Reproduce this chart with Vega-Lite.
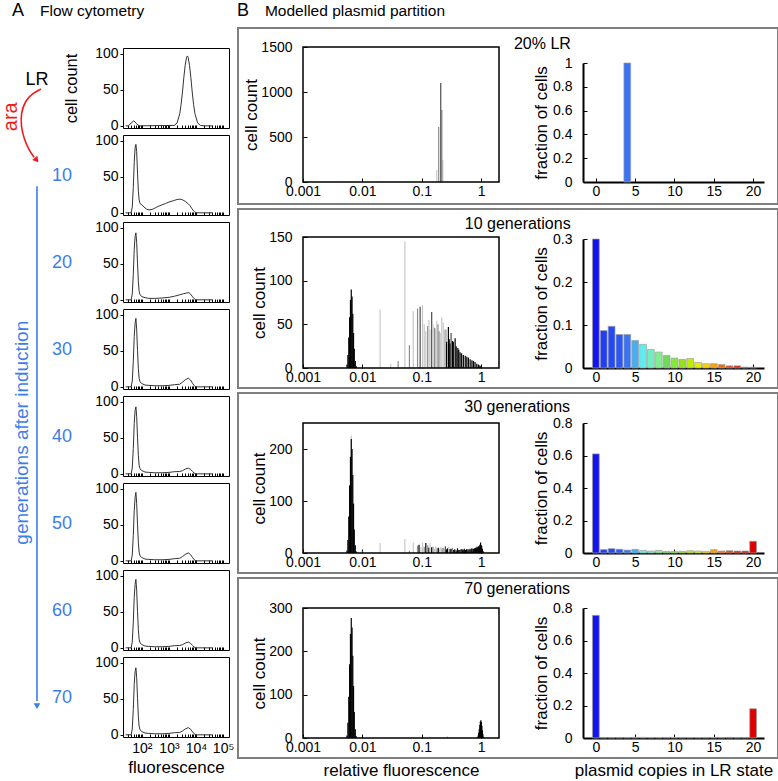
{
"$schema": "https://vega.github.io/schema/vega-lite/v6.json",
"padding": {"left": 0, "top": 0, "right": 0, "bottom": 0},
"spacing": 7,
"datasets": {
"a0": [{"f":25,"c":0},{"f":32,"c":0},{"f":40,"c":4},{"f":50,"c":7},{"f":63,"c":3},{"f":79,"c":0},{"f":1585,"c":0.6},{"f":1995,"c":4},{"f":2512,"c":17},{"f":2818,"c":30},{"f":3162,"c":47},{"f":3548,"c":67},{"f":3981,"c":84},{"f":4467,"c":95},{"f":4786,"c":97},{"f":5129,"c":95},{"f":5754,"c":84},{"f":6457,"c":67},{"f":7244,"c":47},{"f":8128,"c":30},{"f":9120,"c":17},{"f":11482,"c":4},{"f":14454,"c":0.6},{"f":20000,"c":0},{"f":40000,"c":0}],
"a1": [{"f":25,"c":0},{"f":40,"c":0},{"f":44,"c":8},{"f":48,"c":35},{"f":52,"c":70},{"f":56,"c":90},{"f":60,"c":95},{"f":64,"c":85},{"f":69,"c":55},{"f":74,"c":30},{"f":79,"c":18},{"f":85,"c":13},{"f":100,"c":11},{"f":120,"c":8},{"f":150,"c":5},{"f":182,"c":4},{"f":250,"c":5},{"f":316,"c":7},{"f":400,"c":9},{"f":550,"c":11},{"f":750,"c":13},{"f":1000,"c":15},{"f":1500,"c":17},{"f":2000,"c":18.5},{"f":2500,"c":19},{"f":3200,"c":18},{"f":4000,"c":16},{"f":5000,"c":13},{"f":6000,"c":10},{"f":7000,"c":6},{"f":8000,"c":3},{"f":9100,"c":1},{"f":10500,"c":0},{"f":40000,"c":0}],
"a2": [{"f":25,"c":0},{"f":40,"c":0},{"f":44,"c":8},{"f":48,"c":35},{"f":52,"c":70},{"f":56,"c":88},{"f":60,"c":93},{"f":64,"c":80},{"f":69,"c":50},{"f":74,"c":25},{"f":79,"c":12},{"f":85,"c":7},{"f":100,"c":4.5},{"f":130,"c":3},{"f":180,"c":2},{"f":300,"c":2},{"f":550,"c":2.5},{"f":1000,"c":3.5},{"f":1600,"c":5},{"f":2500,"c":7},{"f":3500,"c":8.5},{"f":4500,"c":9.5},{"f":5500,"c":10},{"f":6300,"c":8},{"f":7200,"c":5},{"f":8300,"c":2},{"f":9500,"c":0.5},{"f":11000,"c":0},{"f":40000,"c":0}],
"a3": [{"f":25,"c":0},{"f":40,"c":0},{"f":44,"c":8},{"f":48,"c":35},{"f":52,"c":70},{"f":56,"c":88},{"f":60,"c":95},{"f":64,"c":80},{"f":69,"c":50},{"f":74,"c":25},{"f":79,"c":12},{"f":85,"c":7},{"f":100,"c":4.5},{"f":130,"c":2.5},{"f":180,"c":2},{"f":300,"c":1.5},{"f":600,"c":1.5},{"f":1000,"c":2},{"f":1600,"c":3},{"f":2500,"c":3.6},{"f":3200,"c":6.6},{"f":4000,"c":9.8},{"f":5200,"c":12},{"f":6300,"c":9.4},{"f":7500,"c":4.8},{"f":8500,"c":1.8},{"f":9500,"c":0.5},{"f":11000,"c":0},{"f":40000,"c":0}],
"a4": [{"f":25,"c":0},{"f":40,"c":0},{"f":44,"c":8},{"f":48,"c":35},{"f":52,"c":70},{"f":56,"c":88},{"f":60,"c":93},{"f":64,"c":80},{"f":69,"c":50},{"f":74,"c":25},{"f":79,"c":12},{"f":85,"c":7},{"f":100,"c":4.5},{"f":130,"c":2.5},{"f":180,"c":2},{"f":300,"c":1.5},{"f":600,"c":1.5},{"f":1000,"c":2},{"f":1600,"c":3},{"f":2500,"c":3.2},{"f":3200,"c":4.4},{"f":4000,"c":6.6},{"f":5200,"c":8},{"f":6300,"c":6.2},{"f":7500,"c":3.2},{"f":8500,"c":1.2},{"f":9500,"c":0.3},{"f":11000,"c":0},{"f":40000,"c":0}],
"a5": [{"f":25,"c":0},{"f":40,"c":0},{"f":44,"c":8},{"f":48,"c":35},{"f":52,"c":70},{"f":56,"c":88},{"f":60,"c":95},{"f":64,"c":80},{"f":69,"c":50},{"f":74,"c":25},{"f":79,"c":12},{"f":85,"c":7},{"f":100,"c":4.5},{"f":130,"c":2.5},{"f":180,"c":2},{"f":300,"c":1.5},{"f":600,"c":1.5},{"f":1000,"c":2},{"f":1600,"c":3},{"f":2500,"c":3.5},{"f":3200,"c":6},{"f":4000,"c":9},{"f":5200,"c":11},{"f":6300,"c":8.6},{"f":7500,"c":4.4},{"f":8500,"c":1.7},{"f":9500,"c":0.4},{"f":11000,"c":0},{"f":40000,"c":0}],
"a6": [{"f":25,"c":0},{"f":40,"c":0},{"f":44,"c":8},{"f":48,"c":35},{"f":52,"c":70},{"f":56,"c":88},{"f":60,"c":95},{"f":64,"c":80},{"f":69,"c":50},{"f":74,"c":25},{"f":79,"c":12},{"f":85,"c":7},{"f":100,"c":4.5},{"f":130,"c":2.5},{"f":180,"c":2},{"f":300,"c":1.5},{"f":600,"c":1.5},{"f":1000,"c":2},{"f":1600,"c":3},{"f":2500,"c":3.2},{"f":3200,"c":4.4},{"f":4000,"c":6.6},{"f":5200,"c":8},{"f":6300,"c":6.2},{"f":7500,"c":3.2},{"f":8500,"c":1.2},{"f":9500,"c":0.3},{"f":11000,"c":0},{"f":40000,"c":0}],
"a7": [{"f":25,"c":0},{"f":40,"c":0},{"f":44,"c":8},{"f":48,"c":35},{"f":52,"c":70},{"f":56,"c":88},{"f":60,"c":93},{"f":64,"c":80},{"f":69,"c":50},{"f":74,"c":25},{"f":79,"c":12},{"f":85,"c":7},{"f":100,"c":4.5},{"f":130,"c":2.5},{"f":180,"c":2},{"f":300,"c":1.5},{"f":600,"c":1.5},{"f":1000,"c":2},{"f":1600,"c":3},{"f":2500,"c":3.3},{"f":3200,"c":5.5},{"f":4000,"c":8.2},{"f":5200,"c":10},{"f":6300,"c":7.8},{"f":7500,"c":4},{"f":8500,"c":1.5},{"f":9500,"c":0.4},{"f":11000,"c":0},{"f":40000,"c":0}],
"h1": [{"x":0.179,"c":133,"s":"l"},{"x":0.193,"c":611,"s":"m"},{"x":0.226,"c":244,"s":"l"},{"x":0.218,"c":800,"s":"m"},{"x":0.209,"c":1100,"s":"d"}],
"h2": [{"x":0.0055,"c":4,"s":"k"},{"x":0.0057,"c":15,"s":"k"},{"x":0.0059,"c":35,"s":"k"},{"x":0.0061,"c":58,"s":"k"},{"x":0.0063,"c":78,"s":"k"},{"x":0.0065,"c":90,"s":"k"},{"x":0.0067,"c":82,"s":"k"},{"x":0.0069,"c":62,"s":"k"},{"x":0.0071,"c":40,"s":"k"},{"x":0.0073,"c":22,"s":"k"},{"x":0.0076,"c":8,"s":"k"},{"x":0.0079,"c":2,"s":"k"},
{"x":0.0199,"c":67,"s":"l"},{"x":0.030,"c":5,"s":"l"},{"x":0.040,"c":8,"s":"m"},{"x":0.052,"c":145,"s":"l"},{"x":0.062,"c":26,"s":"m"},{"x":0.072,"c":65,"s":"l"},{"x":0.085,"c":68,"s":"m"},{"x":0.094,"c":70,"s":"d"},{"x":0.103,"c":72,"s":"l"},{"x":0.110,"c":50,"s":"l"},{"x":0.117,"c":42,"s":"l"},{"x":0.126,"c":48,"s":"m"},{"x":0.132,"c":55,"s":"l"},{"x":0.138,"c":44,"s":"l"},{"x":0.147,"c":64,"s":"d"},{"x":0.155,"c":50,"s":"l"},{"x":0.164,"c":46,"s":"m"},{"x":0.171,"c":45,"s":"l"},{"x":0.179,"c":54,"s":"l"},{"x":0.188,"c":50,"s":"m"},{"x":0.196,"c":42,"s":"m"},{"x":0.205,"c":40,"s":"l"},{"x":0.217,"c":58,"s":"l"},{"x":0.230,"c":52,"s":"l"},{"x":0.247,"c":44,"s":"m"},{"x":0.260,"c":44,"s":"l"},
{"x":0.262,"c":30,"s":"k"},{"x":0.281,"c":47,"s":"k"},{"x":0.290,"c":33,"s":"k"},{"x":0.300,"c":28,"s":"k"},{"x":0.312,"c":40,"s":"d"},{"x":0.329,"c":31,"s":"k"},{"x":0.340,"c":30,"s":"k"},{"x":0.365,"c":34,"s":"k"},{"x":0.380,"c":25,"s":"k"},{"x":0.405,"c":23,"s":"k"},{"x":0.420,"c":21,"s":"k"},{"x":0.442,"c":18,"s":"k"},{"x":0.470,"c":17,"s":"k"},{"x":0.502,"c":15,"s":"k"},{"x":0.540,"c":14,"s":"k"},{"x":0.574,"c":13,"s":"k"},{"x":0.610,"c":12,"s":"k"},{"x":0.653,"c":10,"s":"k"},{"x":0.700,"c":9,"s":"k"},{"x":0.743,"c":8,"s":"k"},{"x":0.790,"c":7,"s":"k"},{"x":0.845,"c":5,"s":"k"},{"x":0.900,"c":4,"s":"k"},{"x":0.950,"c":3,"s":"k"},{"x":0.990,"c":2,"s":"k"}],
"h3": [{"x":0.0065,"c":226,"s":"l"},{"x":0.0055,"c":5,"s":"k"},{"x":0.0057,"c":25,"s":"k"},{"x":0.0059,"c":70,"s":"k"},{"x":0.0061,"c":130,"s":"k"},{"x":0.0063,"c":185,"s":"k"},{"x":0.0065,"c":219,"s":"k"},{"x":0.0067,"c":200,"s":"k"},{"x":0.0069,"c":150,"s":"k"},{"x":0.0071,"c":95,"s":"k"},{"x":0.0073,"c":45,"s":"k"},{"x":0.0076,"c":15,"s":"k"},{"x":0.0079,"c":3,"s":"k"},{"x":0.0100,"c":5,"s":"d"},
{"x":0.0199,"c":19,"s":"l"},{"x":0.052,"c":27,"s":"l"},{"x":0.062,"c":4,"s":"m"},{"x":0.072,"c":20,"s":"l"},{"x":0.085,"c":14,"s":"m"},{"x":0.090,"c":16,"s":"k"},{"x":0.097,"c":10,"s":"l"},{"x":0.103,"c":20,"s":"l"},{"x":0.110,"c":12,"s":"m"},{"x":0.117,"c":19,"s":"k"},{"x":0.126,"c":15,"s":"m"},{"x":0.132,"c":10,"s":"k"},{"x":0.138,"c":19,"s":"l"},{"x":0.147,"c":11,"s":"k"},{"x":0.155,"c":12,"s":"m"},{"x":0.164,"c":8,"s":"l"},{"x":0.172,"c":13,"s":"l"},{"x":0.181,"c":9,"s":"m"},{"x":0.190,"c":10,"s":"k"},{"x":0.200,"c":8,"s":"l"},{"x":0.210,"c":12,"s":"l"},{"x":0.220,"c":9,"s":"m"},{"x":0.230,"c":10,"s":"m"},{"x":0.240,"c":8,"s":"l"},{"x":0.250,"c":13,"s":"d"},{"x":0.262,"c":7,"s":"k"},{"x":0.272,"c":9,"s":"k"},{"x":0.285,"c":12,"s":"l"},{"x":0.300,"c":7,"s":"k"},{"x":0.312,"c":8,"s":"k"},{"x":0.330,"c":10,"s":"m"},{"x":0.345,"c":6,"s":"k"},{"x":0.360,"c":7,"s":"k"},{"x":0.380,"c":5,"s":"k"},{"x":0.400,"c":9,"s":"k"},{"x":0.420,"c":6,"s":"k"},{"x":0.440,"c":6,"s":"k"},{"x":0.460,"c":7,"s":"k"},{"x":0.480,"c":7,"s":"k"},{"x":0.500,"c":6,"s":"k"},{"x":0.520,"c":8,"s":"k"},{"x":0.545,"c":6,"s":"k"},{"x":0.570,"c":7,"s":"k"},{"x":0.600,"c":7,"s":"k"},{"x":0.625,"c":6,"s":"k"},{"x":0.650,"c":8,"s":"k"},{"x":0.680,"c":7,"s":"k"},{"x":0.700,"c":9,"s":"k"},{"x":0.730,"c":7,"s":"k"},{"x":0.750,"c":8,"s":"k"},{"x":0.780,"c":9,"s":"k"},{"x":0.800,"c":10,"s":"k"},{"x":0.830,"c":9,"s":"k"},{"x":0.850,"c":12,"s":"k"},{"x":0.880,"c":11,"s":"k"},{"x":0.900,"c":13,"s":"k"},{"x":0.930,"c":12,"s":"k"},{"x":0.950,"c":16,"s":"k"},{"x":0.980,"c":20,"s":"k"},{"x":1.000,"c":15,"s":"k"},{"x":1.020,"c":14,"s":"k"},{"x":1.050,"c":8,"s":"k"},{"x":1.080,"c":4,"s":"k"}],
"h4": [{"x":0.0055,"c":6,"s":"k"},{"x":0.0057,"c":35,"s":"k"},{"x":0.0059,"c":95,"s":"k"},{"x":0.0061,"c":170,"s":"k"},{"x":0.0063,"c":240,"s":"k"},{"x":0.0065,"c":277,"s":"k"},{"x":0.0067,"c":255,"s":"k"},{"x":0.0069,"c":190,"s":"k"},{"x":0.0071,"c":120,"s":"k"},{"x":0.0073,"c":60,"s":"k"},{"x":0.0076,"c":20,"s":"k"},{"x":0.0079,"c":4,"s":"k"},{"x":0.27,"c":3,"s":"m"},{"x":0.87,"c":2,"s":"k"},{"x":0.89,"c":6,"s":"k"},{"x":0.91,"c":12,"s":"k"},{"x":0.93,"c":20,"s":"k"},{"x":0.95,"c":30,"s":"k"},{"x":0.97,"c":38,"s":"k"},{"x":0.99,"c":41,"s":"k"},{"x":1.01,"c":37,"s":"k"},{"x":1.03,"c":28,"s":"k"},{"x":1.05,"c":18,"s":"k"},{"x":1.07,"c":9,"s":"k"},{"x":1.10,"c":3,"s":"k"}],
"r1": [{"n":4,"v":1}],
"r2": [{"n":0,"v":0.30},{"n":1,"v":0.087},{"n":2,"v":0.097},{"n":3,"v":0.078},{"n":4,"v":0.078},{"n":5,"v":0.064},{"n":6,"v":0.055},{"n":7,"v":0.043},{"n":8,"v":0.037},{"n":9,"v":0.029},{"n":10,"v":0.023},{"n":11,"v":0.020},{"n":12,"v":0.022},{"n":13,"v":0.013},{"n":14,"v":0.010},{"n":15,"v":0.010},{"n":16,"v":0.008},{"n":17,"v":0.005},{"n":18,"v":0.005},{"n":19,"v":0.002},{"n":20,"v":0.002}],
"r3": [{"n":0,"v":0.61},{"n":1,"v":0.021},{"n":2,"v":0.027},{"n":3,"v":0.023},{"n":4,"v":0.018},{"n":5,"v":0.022},{"n":6,"v":0.016},{"n":7,"v":0.012},{"n":8,"v":0.016},{"n":9,"v":0.010},{"n":10,"v":0.010},{"n":11,"v":0.010},{"n":12,"v":0.014},{"n":13,"v":0.012},{"n":14,"v":0.010},{"n":15,"v":0.020},{"n":16,"v":0.012},{"n":17,"v":0.014},{"n":18,"v":0.012},{"n":19,"v":0.012},{"n":20,"v":0.072}],
"r4": [{"n":0,"v":0.755},{"n":1,"v":0.003},{"n":2,"v":0.003},{"n":3,"v":0.003},{"n":4,"v":0.003},{"n":5,"v":0.004},{"n":6,"v":0.004},{"n":7,"v":0.003},{"n":8,"v":0.003},{"n":9,"v":0.003},{"n":10,"v":0.003},{"n":11,"v":0.003},{"n":12,"v":0.003},{"n":13,"v":0.003},{"n":14,"v":0.003},{"n":15,"v":0.003},{"n":16,"v":0.003},{"n":17,"v":0.004},{"n":18,"v":0.003},{"n":19,"v":0.003},{"n":20,"v":0.18}]
},
"vconcat": [
{
"width": 777, "height": 20,
"view": {"stroke": null},
"encoding": {
"x": {"field": "x", "type": "quantitative", "scale": {"domain": [0, 100]}, "axis": null},
"y": {"field": "y", "type": "quantitative", "scale": {"domain": [0, 100]}, "axis": null},
"text": {"field": "t"}
},
"layer": [
{"data": {"values": [{"x": 1.54, "y": 20, "t": "A"}, {"x": 30.5, "y": 20, "t": "B"}]}, "mark": {"type": "text", "fontSize": 18, "align": "left", "baseline": "alphabetic", "color": "black"}},
{"data": {"values": [{"x": 5.15, "y": 20, "t": "Flow cytometry"}, {"x": 34.1, "y": 20, "t": "Modelled plasmid partition"}]}, "mark": {"type": "text", "fontSize": 15.5, "align": "left", "baseline": "alphabetic", "color": "black"}}
]
},
{
"spacing": 2,
"hconcat": [
{
"width": 43, "height": 710,
"view": {"stroke": null},
"encoding": {
"x": {"field": "x", "type": "quantitative", "scale": {"domain": [0, 100]}, "axis": null},
"y": {"field": "y", "type": "quantitative", "scale": {"domain": [0, 100], "reverse": true}, "axis": null}
},
"layer": [
{"data": {"values": [{"x": 86.0, "y": 7.3, "label": "LR"}]}, "mark": {"type": "text", "fontSize": 18, "color": "black", "align": "center", "baseline": "middle"}, "encoding": {"text": {"field": "label"}}},
{"data": {"values": [{"x": 25.6, "y": 12.5, "label": "ara"}]}, "mark": {"type": "text", "fontSize": 20, "color": "#f21b1b", "angle": 270, "align": "center", "baseline": "middle"}, "encoding": {"text": {"field": "label"}}},
{"data": {"values": [{"x": 51.2, "y": 57, "label": "generations after induction"}]}, "mark": {"type": "text", "fontSize": 19, "color": "#3c7ee8", "angle": 270, "align": "center", "baseline": "middle"}, "encoding": {"text": {"field": "label"}}},
{"data": {"values": [{"k":1,"x":95.3,"y":8.6},{"k":2,"x":76.7,"y":9.15},{"k":3,"x":58.1,"y":10.3},{"k":4,"x":48.8,"y":12.0},{"k":5,"x":48.8,"y":13.8},{"k":6,"x":55.8,"y":15.6},{"k":7,"x":67.4,"y":17.2},{"k":8,"x":79.1,"y":18.2}]}, "mark": {"type": "line", "color": "#f21b1b", "strokeWidth": 1.6, "interpolate": "basis"}, "encoding": {"order": {"field": "k", "type": "quantitative"}}},
{"data": {"values": [{"x": 83.7, "y": 18.5}]}, "mark": {"type": "point", "shape": "triangle", "filled": true, "color": "#f21b1b", "size": 45, "angle": 140, "opacity": 1}},
{"data": {"values": [{"x": 86.0, "y": 22.3, "y2": 94.8}]}, "mark": {"type": "rule", "color": "#3c7ee8", "strokeWidth": 1.6}, "encoding": {"y2": {"field": "y2"}}},
{"data": {"values": [{"x": 86.0, "y": 95.5}]}, "mark": {"type": "point", "shape": "triangle-down", "filled": true, "color": "#3c7ee8", "size": 45, "opacity": 1}}
]
},
{
"bounds": "flush",
"spacing": 7,
"vconcat": [
{"width": 106, "height": 13, "view": {"stroke": null}, "data": {"values": []}, "mark": "point"},
{"width": 106, "height": 80, "data": {"name": "a0"}, "mark": {"type": "line", "color": "#333333", "strokeWidth": 1, "clip": true},
 "encoding": {
 "x": {"field": "f", "type": "quantitative", "scale": {"type": "log", "domain": [20, 166000], "nice": false}, "axis": {"values": [30,40,50,60,70,80,90,100,200,300,400,500,600,700,800,900,1000,2000,3000,4000,5000,6000,7000,8000,9000,10000,20000,30000,40000,50000,60000,70000,80000,90000,100000], "labels": false, "title": null, "tickSize": -3, "domain": false}},
 "y": {"field": "c", "type": "quantitative", "scale": {"domain": [-3, 108], "nice": false, "zero": false}, "axis": {"values": [0,50,100], "title": "cell count", "titleFontSize": 16.5, "titlePadding": 15, "tickSize": 3, "labelPadding": 2, "domain": false, "labelFontSize": 14}}
 }},
{"width": 106, "height": 80, "data": {"name": "a1"}, "mark": {"type": "line", "color": "#333333", "strokeWidth": 1, "clip": true},
 "encoding": {
 "x": {"field": "f", "type": "quantitative", "scale": {"type": "log", "domain": [20, 166000], "nice": false}, "axis": {"values": [30,40,50,60,70,80,90,100,200,300,400,500,600,700,800,900,1000,2000,3000,4000,5000,6000,7000,8000,9000,10000,20000,30000,40000,50000,60000,70000,80000,90000,100000], "labels": false, "title": null, "tickSize": -3, "domain": false}},
 "y": {"field": "c", "type": "quantitative", "scale": {"domain": [-3, 108], "nice": false, "zero": false}, "axis": {"values": [0,50,100], "title": "10", "titleAngle": 0, "titleAlign": "right", "titleBaseline": "middle", "titleColor": "#3c7ee8", "titleFontSize": 18, "titlePadding": 23, "tickSize": 3, "labelPadding": 2, "domain": false, "labelFontSize": 14}}
 }},
{"width": 106, "height": 80, "data": {"name": "a2"}, "mark": {"type": "line", "color": "#333333", "strokeWidth": 1, "clip": true},
 "encoding": {
 "x": {"field": "f", "type": "quantitative", "scale": {"type": "log", "domain": [20, 166000], "nice": false}, "axis": {"values": [30,40,50,60,70,80,90,100,200,300,400,500,600,700,800,900,1000,2000,3000,4000,5000,6000,7000,8000,9000,10000,20000,30000,40000,50000,60000,70000,80000,90000,100000], "labels": false, "title": null, "tickSize": -3, "domain": false}},
 "y": {"field": "c", "type": "quantitative", "scale": {"domain": [-3, 108], "nice": false, "zero": false}, "axis": {"values": [0,50,100], "title": "20", "titleAngle": 0, "titleAlign": "right", "titleBaseline": "middle", "titleColor": "#3c7ee8", "titleFontSize": 18, "titlePadding": 23, "tickSize": 3, "labelPadding": 2, "domain": false, "labelFontSize": 14}}
 }},
{"width": 106, "height": 80, "data": {"name": "a3"}, "mark": {"type": "line", "color": "#333333", "strokeWidth": 1, "clip": true},
 "encoding": {
 "x": {"field": "f", "type": "quantitative", "scale": {"type": "log", "domain": [20, 166000], "nice": false}, "axis": {"values": [30,40,50,60,70,80,90,100,200,300,400,500,600,700,800,900,1000,2000,3000,4000,5000,6000,7000,8000,9000,10000,20000,30000,40000,50000,60000,70000,80000,90000,100000], "labels": false, "title": null, "tickSize": -3, "domain": false}},
 "y": {"field": "c", "type": "quantitative", "scale": {"domain": [-3, 108], "nice": false, "zero": false}, "axis": {"values": [0,50,100], "title": "30", "titleAngle": 0, "titleAlign": "right", "titleBaseline": "middle", "titleColor": "#3c7ee8", "titleFontSize": 18, "titlePadding": 23, "tickSize": 3, "labelPadding": 2, "domain": false, "labelFontSize": 14}}
 }},
{"width": 106, "height": 80, "data": {"name": "a4"}, "mark": {"type": "line", "color": "#333333", "strokeWidth": 1, "clip": true},
 "encoding": {
 "x": {"field": "f", "type": "quantitative", "scale": {"type": "log", "domain": [20, 166000], "nice": false}, "axis": {"values": [30,40,50,60,70,80,90,100,200,300,400,500,600,700,800,900,1000,2000,3000,4000,5000,6000,7000,8000,9000,10000,20000,30000,40000,50000,60000,70000,80000,90000,100000], "labels": false, "title": null, "tickSize": -3, "domain": false}},
 "y": {"field": "c", "type": "quantitative", "scale": {"domain": [-3, 108], "nice": false, "zero": false}, "axis": {"values": [0,50,100], "title": "40", "titleAngle": 0, "titleAlign": "right", "titleBaseline": "middle", "titleColor": "#3c7ee8", "titleFontSize": 18, "titlePadding": 23, "tickSize": 3, "labelPadding": 2, "domain": false, "labelFontSize": 14}}
 }},
{"width": 106, "height": 80, "data": {"name": "a5"}, "mark": {"type": "line", "color": "#333333", "strokeWidth": 1, "clip": true},
 "encoding": {
 "x": {"field": "f", "type": "quantitative", "scale": {"type": "log", "domain": [20, 166000], "nice": false}, "axis": {"values": [30,40,50,60,70,80,90,100,200,300,400,500,600,700,800,900,1000,2000,3000,4000,5000,6000,7000,8000,9000,10000,20000,30000,40000,50000,60000,70000,80000,90000,100000], "labels": false, "title": null, "tickSize": -3, "domain": false}},
 "y": {"field": "c", "type": "quantitative", "scale": {"domain": [-3, 108], "nice": false, "zero": false}, "axis": {"values": [0,50,100], "title": "50", "titleAngle": 0, "titleAlign": "right", "titleBaseline": "middle", "titleColor": "#3c7ee8", "titleFontSize": 18, "titlePadding": 23, "tickSize": 3, "labelPadding": 2, "domain": false, "labelFontSize": 14}}
 }},
{"width": 106, "height": 80, "data": {"name": "a6"}, "mark": {"type": "line", "color": "#333333", "strokeWidth": 1, "clip": true},
 "encoding": {
 "x": {"field": "f", "type": "quantitative", "scale": {"type": "log", "domain": [20, 166000], "nice": false}, "axis": {"values": [30,40,50,60,70,80,90,100,200,300,400,500,600,700,800,900,1000,2000,3000,4000,5000,6000,7000,8000,9000,10000,20000,30000,40000,50000,60000,70000,80000,90000,100000], "labels": false, "title": null, "tickSize": -3, "domain": false}},
 "y": {"field": "c", "type": "quantitative", "scale": {"domain": [-3, 108], "nice": false, "zero": false}, "axis": {"values": [0,50,100], "title": "60", "titleAngle": 0, "titleAlign": "right", "titleBaseline": "middle", "titleColor": "#3c7ee8", "titleFontSize": 18, "titlePadding": 23, "tickSize": 3, "labelPadding": 2, "domain": false, "labelFontSize": 14}}
 }},
{"width": 106, "height": 80, "data": {"name": "a7"}, "mark": {"type": "line", "color": "#333333", "strokeWidth": 1, "clip": true},
 "encoding": {
 "x": {"field": "f", "type": "quantitative", "scale": {"type": "log", "domain": [20, 166000], "nice": false}, "axis": {"values": [30,40,50,60,70,80,90,100,200,300,400,500,600,700,800,900,1000,2000,3000,4000,5000,6000,7000,8000,9000,10000,20000,30000,40000,50000,60000,70000,80000,90000,100000], "labelExpr": "datum.value == 100 ? '10²' : datum.value == 1000 ? '10³' : datum.value == 10000 ? '10⁴' : datum.value == 100000 ? '10⁵' : ''", "labelFontSize": 14, "labelPadding": 7, "labelFlush": false, "labelOverlap": false, "title": "fluorescence", "titleFontSize": 17, "titlePadding": 4, "tickSize": -3, "domain": false}},
 "y": {"field": "c", "type": "quantitative", "scale": {"domain": [-3, 108], "nice": false, "zero": false}, "axis": {"values": [0,50,100], "title": "70", "titleAngle": 0, "titleAlign": "right", "titleBaseline": "middle", "titleColor": "#3c7ee8", "titleFontSize": 18, "titlePadding": 23, "tickSize": 3, "labelPadding": 2, "domain": false, "labelFontSize": 14}}
 }}
]
},
{
"bounds": "flush",
"spacing": 5,
"vconcat": [
{
"width": 540, "height": 176,
"view": {"stroke": "#7f7f7f", "strokeWidth": 2},
"layer": [
{"layer": [
 {"data": {"name": "h1"}, "mark": {"type": "rule", "strokeWidth": 1.2},
  "encoding": {
  "x": {"field": "x", "type": "quantitative", "scale": {"type": "log", "domain": [0.001, 2], "range": [65, 261], "nice": false}, "axis": {"orient": "bottom", "offset": -22, "values": [0.001, 0.01, 0.1, 1], "format": "~g", "tickSize": -4, "labelPadding": 6, "domain": false, "title": null, "labelFontSize": 14, "labelFlush": false}},
  "y": {"field": "c", "type": "quantitative", "scale": {"domain": [0, 1500], "range": [154, 19], "nice": false}, "axis": {"orient": "left", "offset": -65, "values": [0, 500, 1000, 1500], "format": "d", "tickSize": -4, "labelPadding": 15, "domain": false, "title": "cell count", "titleFontSize": 17, "titlePadding": 0, "labelFontSize": 14}},
  "y2": {"datum": 0},
  "color": {"field": "s", "type": "nominal", "scale": {"domain": ["k", "d", "m", "l"], "range": ["#000000", "#4d4d4d", "#8c8c8c", "#c8c8c8"]}, "legend": null}
  }},
 {"data": {"values": [{}]}, "mark": {"type": "rect", "filled": false, "color": "black", "strokeWidth": 1.5},
  "encoding": {"x": {"datum": 0.001}, "x2": {"datum": 2}, "y": {"datum": 0}, "y2": {"datum": 1500}}}
]},
{"data": {"name": "r1"}, "mark": {"type": "bar", "orient": "vertical", "width": 6.8, "stroke": "#a0a0a0", "strokeWidth": 0.7},
 "encoding": {
 "x": {"field": "n", "type": "quantitative", "scale": {"domain": [-1, 20.75], "range": [345, 526], "nice": false, "zero": false}, "axis": {"orient": "bottom", "offset": -22, "values": [0, 5, 10, 15, 20], "tickSize": -4, "labelPadding": 6, "domainWidth": 2, "title": null, "labelFontSize": 14, "labelFlush": false}},
 "y": {"field": "v", "type": "quantitative", "scale": {"domain": [0, 1], "range": [154, 35], "nice": false}, "axis": {"orient": "left", "offset": -345, "values": [0, 0.2, 0.4, 0.6, 0.8, 1], "format": "~g", "tickSize": -4, "labelPadding": 15, "domainWidth": 2, "title": "fraction of cells", "titleFontSize": 17, "titlePadding": 2, "labelFontSize": 14}},
 "color": {"field": "n", "type": "ordinal", "scale": {"domain": [0,1,2,3,4,5,6,7,8,9,10,11,12,13,14,15,16,17,18,19,20], "range": ["#1414f0","#1f3ef5","#2449f5","#2a57f5","#3a74f5","#48aef0","#5eeef2","#70f0c0","#80ee90","#6edc5a","#84ea3c","#96e020","#bdee00","#e6ee00","#ffd200","#ffa000","#ff6a00","#f03c00","#e01a0a","#d01010","#e00000"]}, "legend": null}
 }},
{"data": {"values": [{"x": 51.1, "y": 88.1, "t": "20% LR"}]}, "mark": {"type": "text", "fontSize": 16, "align": "left", "baseline": "alphabetic", "color": "black"},
 "encoding": {"x": {"field": "x", "type": "quantitative", "scale": {"domain": [0, 100]}, "axis": null}, "y": {"field": "y", "type": "quantitative", "scale": {"domain": [0, 100]}, "axis": null}, "text": {"field": "t"}}}
],
"resolve": {"scale": {"x": "independent", "y": "independent", "color": "independent"}}
},
{
"width": 540, "height": 179,
"view": {"stroke": "#7f7f7f", "strokeWidth": 2},
"layer": [
{"layer": [
 {"data": {"name": "h2"}, "mark": {"type": "rule", "strokeWidth": 1.2},
  "encoding": {
  "x": {"field": "x", "type": "quantitative", "scale": {"type": "log", "domain": [0.001, 2], "range": [65, 261], "nice": false}, "axis": {"orient": "bottom", "offset": -20, "values": [0.001, 0.01, 0.1, 1], "format": "~g", "tickSize": -4, "labelPadding": 6, "domain": false, "title": null, "labelFontSize": 14, "labelFlush": false}},
  "y": {"field": "c", "type": "quantitative", "scale": {"domain": [0, 150], "range": [159, 28], "nice": false}, "axis": {"orient": "left", "offset": -65, "values": [0, 50, 100, 150], "format": "d", "tickSize": -4, "labelPadding": 15, "domain": false, "title": "cell count", "titleFontSize": 17, "titlePadding": 0, "labelFontSize": 14}},
  "y2": {"datum": 0},
  "color": {"field": "s", "type": "nominal", "scale": {"domain": ["k", "d", "m", "l"], "range": ["#000000", "#4d4d4d", "#8c8c8c", "#c8c8c8"]}, "legend": null}
  }},
 {"data": {"values": [{}]}, "mark": {"type": "rect", "filled": false, "color": "black", "strokeWidth": 1.5},
  "encoding": {"x": {"datum": 0.001}, "x2": {"datum": 2}, "y": {"datum": 0}, "y2": {"datum": 150}}}
]},
{"data": {"name": "r2"}, "mark": {"type": "bar", "orient": "vertical", "width": 6.8, "stroke": "#a0a0a0", "strokeWidth": 0.7},
 "encoding": {
 "x": {"field": "n", "type": "quantitative", "scale": {"domain": [-1, 20.75], "range": [345, 526], "nice": false, "zero": false}, "axis": {"orient": "bottom", "offset": -20, "values": [0, 5, 10, 15, 20], "tickSize": -4, "labelPadding": 6, "domainWidth": 2, "title": null, "labelFontSize": 14, "labelFlush": false}},
 "y": {"field": "v", "type": "quantitative", "scale": {"domain": [0, 0.3], "range": [159, 30], "nice": false}, "axis": {"orient": "left", "offset": -345, "values": [0, 0.1, 0.2, 0.3], "format": "~g", "tickSize": -4, "labelPadding": 15, "domainWidth": 2, "title": "fraction of cells", "titleFontSize": 17, "titlePadding": 2, "labelFontSize": 14}},
 "color": {"field": "n", "type": "ordinal", "scale": {"domain": [0,1,2,3,4,5,6,7,8,9,10,11,12,13,14,15,16,17,18,19,20], "range": ["#1414f0","#1f3ef5","#2449f5","#2a57f5","#3a74f5","#48aef0","#5eeef2","#70f0c0","#80ee90","#6edc5a","#84ea3c","#96e020","#bdee00","#e6ee00","#ffd200","#ffa000","#ff6a00","#f03c00","#e01a0a","#d01010","#e00000"]}, "legend": null}
 }},
{"data": {"values": [{"x": 42.0, "y": 88.8, "t": "10 generations"}]}, "mark": {"type": "text", "fontSize": 16, "align": "left", "baseline": "alphabetic", "color": "black"},
 "encoding": {"x": {"field": "x", "type": "quantitative", "scale": {"domain": [0, 100]}, "axis": null}, "y": {"field": "y", "type": "quantitative", "scale": {"domain": [0, 100]}, "axis": null}, "text": {"field": "t"}}}
],
"resolve": {"scale": {"x": "independent", "y": "independent", "color": "independent"}}
},
{
"width": 540, "height": 180,
"view": {"stroke": "#7f7f7f", "strokeWidth": 2},
"layer": [
{"layer": [
 {"data": {"name": "h3"}, "mark": {"type": "rule", "strokeWidth": 1.2},
  "encoding": {
  "x": {"field": "x", "type": "quantitative", "scale": {"type": "log", "domain": [0.001, 2], "range": [65, 261], "nice": false}, "axis": {"orient": "bottom", "offset": -20, "values": [0.001, 0.01, 0.1, 1], "format": "~g", "tickSize": -4, "labelPadding": 6, "domain": false, "title": null, "labelFontSize": 14, "labelFlush": false}},
  "y": {"field": "c", "type": "quantitative", "scale": {"domain": [0, 250], "range": [160, 30], "nice": false}, "axis": {"orient": "left", "offset": -65, "values": [0, 50, 100, 150, 200, 250], "format": "d", "tickSize": -4, "labelPadding": 15, "domain": false, "title": "cell count", "titleFontSize": 17, "titlePadding": 0, "labelFontSize": 14}},
  "y2": {"datum": 0},
  "color": {"field": "s", "type": "nominal", "scale": {"domain": ["k", "d", "m", "l"], "range": ["#000000", "#4d4d4d", "#8c8c8c", "#c8c8c8"]}, "legend": null}
  }},
 {"data": {"values": [{}]}, "mark": {"type": "rect", "filled": false, "color": "black", "strokeWidth": 1.5},
  "encoding": {"x": {"datum": 0.001}, "x2": {"datum": 2}, "y": {"datum": 0}, "y2": {"datum": 250}}}
]},
{"data": {"name": "r3"}, "mark": {"type": "bar", "orient": "vertical", "width": 6.8, "stroke": "#a0a0a0", "strokeWidth": 0.7},
 "encoding": {
 "x": {"field": "n", "type": "quantitative", "scale": {"domain": [-1, 20.75], "range": [345, 526], "nice": false, "zero": false}, "axis": {"orient": "bottom", "offset": -20, "values": [0, 5, 10, 15, 20], "tickSize": -4, "labelPadding": 6, "domainWidth": 2, "title": null, "labelFontSize": 14, "labelFlush": false}},
 "y": {"field": "v", "type": "quantitative", "scale": {"domain": [0, 0.8], "range": [160, 30], "nice": false}, "axis": {"orient": "left", "offset": -345, "values": [0, 0.2, 0.4, 0.6, 0.8], "format": "~g", "tickSize": -4, "labelPadding": 15, "domainWidth": 2, "title": "fraction of cells", "titleFontSize": 17, "titlePadding": 2, "labelFontSize": 14}},
 "color": {"field": "n", "type": "ordinal", "scale": {"domain": [0,1,2,3,4,5,6,7,8,9,10,11,12,13,14,15,16,17,18,19,20], "range": ["#1414f0","#1f3ef5","#2449f5","#2a57f5","#3a74f5","#48aef0","#5eeef2","#70f0c0","#80ee90","#6edc5a","#84ea3c","#96e020","#bdee00","#e6ee00","#ffd200","#ffa000","#ff6a00","#f03c00","#e01a0a","#d01010","#e00000"]}, "legend": null}
 }},
{"data": {"values": [{"x": 41.9, "y": 89.4, "t": "30 generations"}]}, "mark": {"type": "text", "fontSize": 16, "align": "left", "baseline": "alphabetic", "color": "black"},
 "encoding": {"x": {"field": "x", "type": "quantitative", "scale": {"domain": [0, 100]}, "axis": null}, "y": {"field": "y", "type": "quantitative", "scale": {"domain": [0, 100]}, "axis": null}, "text": {"field": "t"}}}
],
"resolve": {"scale": {"x": "independent", "y": "independent", "color": "independent"}}
},
{
"width": 540, "height": 180,
"view": {"stroke": "#7f7f7f", "strokeWidth": 2},
"layer": [
{"layer": [
 {"data": {"name": "h4"}, "mark": {"type": "rule", "strokeWidth": 1.2},
  "encoding": {
  "x": {"field": "x", "type": "quantitative", "scale": {"type": "log", "domain": [0.001, 2], "range": [65, 261], "nice": false}, "axis": {"orient": "bottom", "offset": -20, "values": [0.001, 0.01, 0.1, 1], "format": "~g", "tickSize": -4, "labelPadding": 6, "domain": false, "title": "relative fluorescence", "titleFontSize": 17, "titlePadding": 8, "labelFontSize": 14, "labelFlush": false}},
  "y": {"field": "c", "type": "quantitative", "scale": {"domain": [0, 300], "range": [160, 30], "nice": false}, "axis": {"orient": "left", "offset": -65, "values": [0, 100, 200, 300], "format": "d", "tickSize": -4, "labelPadding": 15, "domain": false, "title": "cell count", "titleFontSize": 17, "titlePadding": 0, "labelFontSize": 14}},
  "y2": {"datum": 0},
  "color": {"field": "s", "type": "nominal", "scale": {"domain": ["k", "d", "m", "l"], "range": ["#000000", "#4d4d4d", "#8c8c8c", "#c8c8c8"]}, "legend": null}
  }},
 {"data": {"values": [{}]}, "mark": {"type": "rect", "filled": false, "color": "black", "strokeWidth": 1.5},
  "encoding": {"x": {"datum": 0.001}, "x2": {"datum": 2}, "y": {"datum": 0}, "y2": {"datum": 300}}}
]},
{"data": {"name": "r4"}, "mark": {"type": "bar", "orient": "vertical", "width": 6.8, "stroke": "#a0a0a0", "strokeWidth": 0.7},
 "encoding": {
 "x": {"field": "n", "type": "quantitative", "scale": {"domain": [-1, 20.75], "range": [345, 526], "nice": false, "zero": false}, "axis": {"orient": "bottom", "offset": -20, "values": [0, 5, 10, 15, 20], "tickSize": -4, "labelPadding": 6, "domainWidth": 2, "title": "plasmid copies in LR state", "titleFontSize": 17, "titlePadding": 8, "labelFontSize": 14, "labelFlush": false}},
 "y": {"field": "v", "type": "quantitative", "scale": {"domain": [0, 0.8], "range": [160, 30], "nice": false}, "axis": {"orient": "left", "offset": -345, "values": [0, 0.2, 0.4, 0.6, 0.8], "format": "~g", "tickSize": -4, "labelPadding": 15, "domainWidth": 2, "title": "fraction of cells", "titleFontSize": 17, "titlePadding": 2, "labelFontSize": 14}},
 "color": {"field": "n", "type": "ordinal", "scale": {"domain": [0,1,2,3,4,5,6,7,8,9,10,11,12,13,14,15,16,17,18,19,20], "range": ["#1414f0","#1f3ef5","#2449f5","#2a57f5","#3a74f5","#48aef0","#5eeef2","#70f0c0","#80ee90","#6edc5a","#84ea3c","#96e020","#bdee00","#e6ee00","#ffd200","#ffa000","#ff6a00","#f03c00","#e01a0a","#d01010","#e00000"]}, "legend": null}
 }},
{"data": {"values": [{"x": 41.9, "y": 91.1, "t": "70 generations"}]}, "mark": {"type": "text", "fontSize": 16, "align": "left", "baseline": "alphabetic", "color": "black"},
 "encoding": {"x": {"field": "x", "type": "quantitative", "scale": {"domain": [0, 100]}, "axis": null}, "y": {"field": "y", "type": "quantitative", "scale": {"domain": [0, 100]}, "axis": null}, "text": {"field": "t"}}}
],
"resolve": {"scale": {"x": "independent", "y": "independent", "color": "independent"}}
}
]
}
]
}
],
"config": {
"font": "Liberation Sans",
"view": {"stroke": "black", "strokeWidth": 1},
"axis": {"grid": false, "labelColor": "black", "titleColor": "black", "domainColor": "black", "tickColor": "black", "titleFontWeight": "normal", "labelFontSize": 14, "titleFontSize": 16, "labelFont": "Liberation Sans", "titleFont": "Liberation Sans"},
"title": {"font": "Liberation Sans", "fontWeight": "normal", "color": "black"}
}
}
